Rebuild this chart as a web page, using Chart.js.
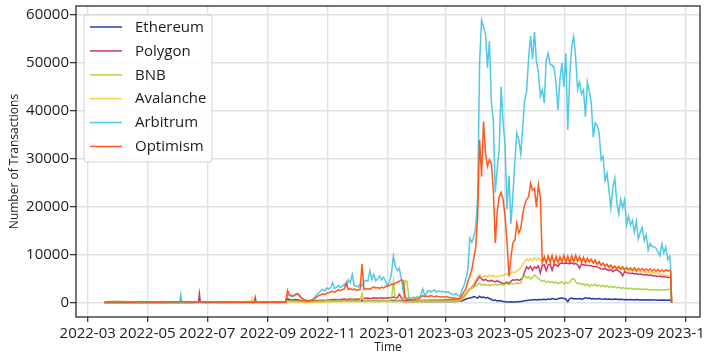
<!DOCTYPE html>
<html>
<head>
<meta charset="utf-8">
<title>Daily transactions by chain</title>
<script src="https://cdn.jsdelivr.net/npm/chart.js@4.4.1/dist/chart.umd.min.js"></script>
<style>
  html, body { margin: 0; padding: 0; background: #ffffff; }
  canvas { display: block; }
</style>
</head>
<body>
<canvas id="chart" width="704" height="356"></canvas>
<script>
// Sampled days, grouped by month: [month, days of month]
const sampleDays = [
  ['2022-03', [18, 24, 31]],
  ['2022-04', [7, 14, 21, 28]],
  ['2022-05', [5, 12, 19, 26]],
  ['2022-06', [3, 4, 5, 12, 22, 23, 24]],
  ['2022-07', [1, 8, 15, 22, 29]],
  ['2022-08', [5, 12, 15, 16, 17, 18, 19, 20, 27]],
  ['2022-09', [3, 10, 17, 19, 21, 23, 25, 27, 29]],
  ['2022-10', [1, 3, 5, 7, 9, 11, 13, 15, 17, 19, 21, 23, 25, 27, 29, 31]],
  ['2022-11', [2, 4, 6, 8, 10, 12, 14, 16, 18, 20, 22, 24, 26, 28, 30]],
  ['2022-12', [2, 4, 6, 8, 10, 12, 14, 16, 18, 20, 22, 24, 26, 28, 30]],
  ['2023-01', [1, 3, 5, 7, 9, 11, 13, 15, 17, 19, 21, 23, 25, 27, 29, 31]],
  ['2023-02', [2, 4, 6, 8, 10, 12, 14, 16, 18, 20, 22, 24, 26, 28]],
  ['2023-03', [2, 4, 6, 8, 10, 12, 14, 16, 18, 20, 22, 24, 26, 28, 30]],
  ['2023-04', [1, 3, 5, 7, 9, 11, 13, 15, 17, 19, 21, 23, 25, 27, 29]],
  ['2023-05', [1, 3, 5, 7, 9, 11, 13, 15, 17, 19, 21, 23, 25, 27, 29, 31]],
  ['2023-06', [2, 4, 6, 8, 10, 12, 14, 16, 18, 20, 22, 24, 26, 28, 30]],
  ['2023-07', [2, 4, 6, 8, 10, 12, 14, 16, 18, 20, 22, 24, 26, 28, 30]],
  ['2023-08', [1, 3, 5, 7, 9, 11, 13, 15, 17, 19, 21, 23, 25, 27, 29, 31]],
  ['2023-09', [2, 4, 6, 8, 10, 12, 14, 16, 18, 20, 22, 24, 26, 28, 30]],
  ['2023-10', [2, 4, 6, 8, 10, 12, 14, 16, 17, 18]]
];

// Number of transactions per chain, one value per sampled day (one line per month)
const ethereum = [
  60, 70, 80,
  80, 90, 80, 90,
  80, 90, 100, 90,
  100, 110, 100, 100, 110, 120, 110,
  100, 110, 100, 110, 120,
  120, 130, 130, 130, 140, 130, 140, 130, 140,
  150, 150, 160, 170, 700, 450, 400, 380, 400,
  420, 380, 300, 250, 230, 220, 230, 250, 260, 280, 300, 320, 330, 350, 340, 360,
  380, 400, 420, 380, 400, 420, 400, 430, 450, 420, 400, 430, 420, 400, 410,
  420, 430, 450, 420, 400, 430, 450, 440, 420, 430, 410, 400, 420, 430, 410,
  400, 420, 450, 480, 460, 440, 420, 380, 300, 280, 270, 280, 290, 270, 280, 290,
  280, 300, 310, 290, 300, 310, 300, 290, 300, 310, 300, 290, 300, 310,
  300, 310, 300, 290, 300, 310, 320, 350, 450, 600, 800, 900, 1000, 1100, 1300,
  1200, 1000, 1400, 1100, 1200, 1000, 1100, 900, 700, 500, 600, 400, 500, 400, 300,
  250, 200, 200, 250, 200, 200, 250, 250, 300, 350, 450, 500, 550, 600, 600, 700,
  600, 700, 650, 700, 750, 650, 800, 700, 900, 800, 700, 850, 950, 1000, 900,
  800, 250, 900, 1000, 800, 900, 800, 900, 750, 850, 1100, 900, 1000, 800, 900,
  800, 850, 900, 800, 750, 850, 700, 800, 750, 700, 800, 750, 700, 750, 700, 650,
  700, 650, 700, 650, 600, 700, 650, 600, 650, 600, 650, 600, 650, 600, 600,
  600, 550, 600, 550, 600, 550, 550, 600, 550, 0
];

const polygon = [
  80, 90, 80,
  90, 80, 70, 80,
  90, 80, 70, 80,
  90, 90, 90, 80, 100, 1900, 100,
  90, 80, 90, 80, 90,
  90, 100, 100, 110, 100, 110, 1100, 110, 100,
  110, 100, 110, 110, 900, 700, 600, 650, 700,
  650, 550, 450, 400, 380, 360, 380, 400, 420, 450, 500, 480, 520, 550, 500, 560,
  600, 650, 700, 680, 720, 650, 700, 750, 800, 700, 750, 820, 780, 700, 750,
  780, 800, 850, 900, 950, 1000, 920, 980, 1050, 1000, 950, 1000, 1050, 980, 1000,
  1000, 1050, 1100, 1200, 1100, 1050, 1800, 1100, 500, 450, 420, 400, 420, 450, 430, 450,
  450, 480, 500, 520, 500, 550, 530, 560, 580, 550, 600, 620, 600, 650,
  650, 680, 700, 680, 700, 720, 700, 750, 900, 1300, 1900, 2500, 2900, 3300, 3500,
  4200, 4900, 5500, 5000, 4700, 4900, 4600, 4500, 4700, 4500, 4400, 4600, 4400, 4200, 4000,
  4100, 4300, 4000, 4500, 4800, 4700, 4900, 4700, 4900, 5300, 6500, 7500, 7100, 7600, 6800, 7500,
  7200, 7700, 6200, 7800, 7900, 6700, 7900, 8100, 6800, 8000, 7900, 7600, 8200, 8300, 8200,
  8300, 8200, 8200, 8300, 8100, 8200, 8000, 7200, 8100, 7900, 7900, 7800, 7800, 7700, 7600,
  7600, 7500, 7300, 7100, 7000, 7200, 6900, 6700, 7000, 6500, 6800, 6900, 6600, 6300, 5600, 6500,
  6300, 6200, 6100, 6200, 6000, 6100, 5900, 6000, 5900, 5800, 5900, 5700, 5800, 5700, 5600,
  5600, 5500, 5600, 5400, 5500, 5400, 5300, 5300, 5200, 0
];

const bnb = [
  250, 300, 350,
  300, 250, 300, 250,
  200, 220, 200, 180,
  180, 170, 180, 170, 160, 170, 160,
  170, 180, 170, 180, 200,
  250, 300, 280, 270, 260, 280, 270, 260, 250,
  240, 230, 220, 220, 500, 450, 400, 380, 400,
  380, 350, 300, 280, 270, 260, 280, 300, 320, 350, 380, 400, 420, 400, 430, 450,
  450, 480, 500, 470, 500, 520, 480, 500, 520, 500, 480, 500, 520, 500, 480,
  500, 520, 1900, 500, 480, 520, 500, 480, 500, 520, 500, 480, 500, 520, 500,
  500, 550, 600, 4400, 600, 550, 580, 600, 620, 4600, 4500, 600, 550, 520, 500, 520,
  520, 540, 560, 540, 550, 560, 540, 560, 580, 560, 580, 600, 580, 550,
  550, 560, 540, 550, 560, 580, 600, 700, 1000, 1500, 2000, 2400, 2700, 3000, 3300,
  3500, 3800, 4100, 3700, 3900, 3700, 3800, 3600, 3800, 3700, 3900, 3700, 3800, 3900, 3700,
  3900, 4000, 3800, 4100, 3900, 4000, 4200, 4000, 4100, 5400, 5600, 5200, 5500, 5000, 5300, 5800,
  5500, 5100, 4800, 4500, 4700, 4300, 4500, 4200, 4400, 4100, 4300, 4000, 4200, 4400, 4000,
  4300, 4100, 4200, 4900, 5100, 4400, 4000, 4100, 3800, 4000, 3600, 3900, 3400, 3800, 3600,
  3900, 3500, 3700, 3400, 3700, 3300, 3600, 3200, 3500, 3200, 3400, 3100, 3300, 3000, 3200, 3000,
  3100, 2900, 3100, 2900, 3000, 2800, 3000, 2800, 2900, 2800, 2900, 2700, 2800, 2700, 2800,
  2700, 2800, 2700, 2700, 2800, 2700, 2800, 2800, 2900, 0
];

const avalanche = [
  60, 60, 70,
  60, 70, 60, 70,
  60, 70, 60, 70,
  70, 60, 70, 60, 70, 60, 70,
  60, 70, 60, 70, 60,
  70, 80, 100, 1000, 100, 90, 90, 80, 80,
  90, 80, 90, 90, 300, 250, 220, 200, 220,
  200, 180, 150, 130, 120, 120, 130, 140, 150, 160, 170, 180, 190, 200, 210, 220,
  230, 240, 250, 240, 250, 260, 250, 260, 270, 260, 250, 260, 270, 260, 250,
  260, 270, 1600, 270, 260, 280, 270, 260, 280, 270, 260, 280, 270, 260, 280,
  270, 280, 300, 320, 300, 290, 280, 300, 250, 240, 230, 240, 250, 240, 250, 260,
  250, 260, 270, 260, 270, 280, 270, 260, 270, 280, 270, 280, 290, 280,
  290, 300, 290, 300, 310, 300, 320, 400, 700, 1000, 1500, 2200, 2800, 3400, 4000,
  4900, 5600, 5900, 5300, 5500, 5700, 5400, 5800, 5500, 5700, 5400, 5600, 5500, 5800, 5600,
  5900, 6000, 5800, 6200, 6400, 6300, 6700, 6900, 7300, 8000, 8600, 9200, 8700, 9300, 8800, 9400,
  8900, 9300, 9000, 8700, 9100, 8800, 9200, 8900, 9100, 8800, 9000, 8700, 9000, 8800, 9100,
  8900, 9000, 8700, 9000, 8800, 9100, 8800, 8900, 8700, 8900, 8600, 8800, 8500, 8700, 8400,
  8500, 8200, 8300, 8000, 8100, 7800, 7900, 7600, 7700, 7400, 7500, 7200, 7300, 7000, 7100, 6900,
  7000, 6800, 6900, 6700, 6800, 6600, 6700, 6500, 6600, 6400, 6500, 6300, 6400, 6200, 6300,
  6100, 6200, 6000, 5900, 5800, 5700, 5600, 5500, 5400, 0
];

const arbitrum = [
  80, 90, 100,
  90, 100, 110, 100,
  120, 110, 120, 130,
  200, 1700, 200, 120, 130, 120, 130,
  140, 130, 140, 150, 140,
  150, 160, 150, 160, 150, 160, 170, 160, 170,
  180, 170, 180, 180, 1700, 1500, 1300, 1500, 1800,
  1900, 1700, 1100, 800, 600, 500, 500, 600, 800, 1200, 1800, 2000, 2600, 2800, 2500, 3100,
  2900, 3200, 4200, 3000, 3300, 3600, 3200, 3500, 3900, 3400, 4800, 4200, 5900, 3600, 3500,
  3300, 3800, 3500, 4400, 4700, 4500, 6700, 4900, 6000, 4600, 5000, 5600, 4800, 5300, 4500,
  3600, 4400, 6000, 9800, 7600, 6700, 7200, 5200, 2500, 1200, 1000, 1100, 900, 1200, 1000, 1300,
  1100, 1600, 2900, 1500, 2100, 2600, 2300, 2500, 2700, 2200, 2500, 2300, 2400, 2300,
  2200, 2300, 2000, 1800, 1700, 1900, 1500, 1400, 2600, 3600, 5000, 7000, 13500, 12600, 13700,
  15600, 22000, 50000, 58900, 57500, 56000, 49000, 54500, 42000, 38000, 23000, 28000, 32000, 45000, 37500,
  33000, 19500, 26500, 16500, 22500, 29500, 35400, 34000, 31000, 36500, 42300, 44000, 51000, 55600, 50800, 56400,
  50300, 48000, 43000, 44400, 41600, 50600, 52000, 49600, 49500, 49000, 45800, 40200, 46500, 50000, 45000,
  52000, 36000, 47200, 53400, 55500, 51300, 44500, 46000, 43500, 44400, 38800, 46000, 44000, 41500, 34500,
  37500, 37000, 35500, 29800, 30500, 25500, 27000, 23500, 19800, 24000, 26000, 21000, 18500, 21600, 19800, 21500,
  16200, 18000, 16200, 17200, 14700, 17000, 13300, 14700, 15700, 12900, 14200, 11000, 12400, 11700, 11700,
  11400, 10700, 9800, 12300, 10400, 11600, 9000, 9700, 7600, 0
];

const optimism = [
  150, 160, 170,
  160, 150, 160, 170,
  160, 150, 160, 170,
  300, 350, 300, 180, 170, 180, 170,
  160, 150, 160, 150, 140,
  150, 140, 150, 140, 150, 140, 150, 140, 150,
  140, 150, 150, 150, 2600, 1700, 1500, 1400, 1700,
  1900, 1500, 1000, 700, 500, 450, 450, 500, 600, 900, 1300, 1500, 1700, 1900, 1700, 2000,
  2100, 2300, 2400, 2200, 2500, 2700, 2600, 2800, 2900, 4200, 2800, 3000, 2700, 2900, 2600,
  2700, 2800, 8100, 2800, 2900, 3000, 2800, 3100, 3300, 3100, 3200, 3000, 3300, 3100, 3400,
  3500, 3600, 3900, 3800, 4100, 4300, 4500, 4800, 4600, 900, 700, 650, 600, 700, 750, 800,
  900, 1200, 1500, 1300, 1400, 1300, 1500, 1400, 1300, 1400, 1300, 1200, 1300, 1200,
  1300, 1200, 1100, 1000, 1000, 900, 900, 1000, 1600, 2300, 2900, 4500, 5500, 6900, 9200,
  11500, 18000, 34000, 26300, 37800, 31200, 28400, 29800, 29000, 23500, 12500, 19000, 22100, 23000, 21500,
  18000, 12500, 5500, 9500, 12500, 13000, 16600, 14600, 15500, 18500, 20500, 21500, 22100, 24900, 23500, 23800,
  20000, 24600, 22000, 8300, 9600, 8300, 9800, 8500, 9900, 8200, 9700, 8400, 9600, 8600, 9900,
  8500, 9700, 8300, 9800, 8600, 9900, 8700, 9600, 8500, 9500, 8400, 9300, 8500, 9100, 8300,
  8900, 8000, 8600, 7800, 8300, 7600, 8100, 7400, 7900, 7200, 7700, 7100, 7600, 7000, 7500, 6900,
  7400, 6900, 7300, 6800, 7300, 6700, 7200, 6800, 7200, 6700, 7100, 6700, 7100, 6600, 7000,
  6600, 7000, 6500, 6900, 6500, 6900, 6600, 6800, 6500, 0
];

// Axis tick labels
const xTickMonths = ['2022-03', '2022-05', '2022-07', '2022-09', '2022-11', '2023-01',
                     '2023-03', '2023-05', '2023-07', '2023-09', '2023-11'];
const yTickValues = [0, 10000, 20000, 30000, 40000, 50000, 60000];

const seriesInfo = [
  { label: 'Ethereum',  values: ethereum,  color: 'rgba(12, 40, 155, 0.9)' },
  { label: 'Polygon',   values: polygon,   color: 'rgba(195, 20, 80, 0.85)' },
  { label: 'BNB',       values: bnb,       color: 'rgba(160, 205, 40, 0.85)' },
  { label: 'Avalanche', values: avalanche, color: 'rgba(255, 196, 40, 0.85)' },
  { label: 'Arbitrum',  values: arbitrum,  color: 'rgba(62, 195, 226, 0.9)' },
  { label: 'Optimism',  values: optimism,  color: 'rgba(255, 75, 10, 0.92)' }
];

const DAY_MS = 86400000;
const dayNumber = iso => Date.parse(iso + 'T00:00:00Z') / DAY_MS;

const dayAxis = [];
sampleDays.forEach(([month, days]) => {
  days.forEach(d => dayAxis.push(dayNumber(month + '-' + String(d).padStart(2, '0'))));
});

// 5% margins on both axes around the data extent
const firstDay = dayAxis[0];
const lastDay = dayAxis[dayAxis.length - 1];
const xPad = (lastDay - firstDay) * 0.05;
const maxValue = Math.max(...seriesInfo.map(s => Math.max(...s.values)));
const yPad = maxValue * 0.05;

const FONT = '"Open Sans", "Noto Sans", "DejaVu Sans", sans-serif';
const TEXT = '#1c1c1c';

const datasets = seriesInfo.map((s, i) => ({
  label: s.label,
  data: s.values.map((v, k) => ({ x: dayAxis[k], y: v })),
  borderColor: s.color,
  backgroundColor: s.color,
  borderWidth: 1.5,
  pointRadius: 0,
  pointHoverRadius: 0,
  tension: 0,
  fill: false,
  order: seriesInfo.length - 1 - i
}));

// Frame around the plot area plus a boxed legend in its upper-left corner
const frameAndLegend = {
  id: 'frameAndLegend',
  afterDatasetsDraw(chart) {
    const { ctx, chartArea: a } = chart;
    ctx.save();
    ctx.strokeStyle = '#2b2b2b';
    ctx.lineWidth = 1.3;
    ctx.strokeRect(a.left, a.top, a.right - a.left, a.bottom - a.top);

    const bx = a.left + 8, by = a.top + 9, bw = 128, bh = 147, r = 3;
    ctx.beginPath();
    ctx.moveTo(bx + r, by);
    ctx.lineTo(bx + bw - r, by);
    ctx.arcTo(bx + bw, by, bx + bw, by + r, r);
    ctx.lineTo(bx + bw, by + bh - r);
    ctx.arcTo(bx + bw, by + bh, bx + bw - r, by + bh, r);
    ctx.lineTo(bx + r, by + bh);
    ctx.arcTo(bx, by + bh, bx, by + bh - r, r);
    ctx.lineTo(bx, by + r);
    ctx.arcTo(bx, by, bx + r, by, r);
    ctx.closePath();
    ctx.fillStyle = 'rgba(255, 255, 255, 0.85)';
    ctx.fill();
    ctx.strokeStyle = '#d0d0d0';
    ctx.lineWidth = 1;
    ctx.stroke();

    ctx.font = '15px ' + FONT;
    ctx.textBaseline = 'middle';
    ctx.textAlign = 'left';
    chart.data.datasets.forEach((ds, i) => {
      const y = by + 12 + i * 23.9;
      ctx.strokeStyle = ds.borderColor;
      ctx.lineWidth = 1.5;
      ctx.beginPath();
      ctx.moveTo(bx + 6, y);
      ctx.lineTo(bx + 38, y);
      ctx.stroke();
      ctx.fillStyle = TEXT;
      ctx.fillText(ds.label, bx + 51, y + 0.5);
    });
    ctx.restore();
  }
};

new Chart(document.getElementById('chart'), {
  type: 'line',
  data: { datasets },
  options: {
    responsive: false,
    animation: false,
    events: [],
    layout: { padding: { top: 6, right: 4, left: 0, bottom: 0 } },
    plugins: { legend: { display: false }, tooltip: { enabled: false } },
    scales: {
      x: {
        type: 'linear',
        min: firstDay - xPad,
        max: lastDay + xPad,
        afterBuildTicks: scale => {
          scale.ticks = xTickMonths.map(m => ({ value: dayNumber(m + '-01') }));
        },
        afterFit: scale => {
          scale.height = 39;
          scale.paddingLeft = 0;
          scale.paddingRight = 0;
        },
        ticks: {
          autoSkip: false,
          maxRotation: 0,
          padding: 3,
          color: TEXT,
          font: { family: FONT, size: 15 },
          callback: (value, index) => xTickMonths[index]
        },
        grid: { color: '#e1e1e1', lineWidth: 1.4, tickLength: 5, tickColor: '#2b2b2b', tickWidth: 1.2 },
        border: { display: false },
        title: {
          display: true,
          text: 'Time',
          color: TEXT,
          font: { family: FONT, size: 12 },
          padding: { top: 0, bottom: 1 }
        }
      },
      y: {
        type: 'linear',
        min: -yPad,
        max: maxValue + yPad,
        afterBuildTicks: scale => {
          scale.ticks = yTickValues.map(v => ({ value: v }));
        },
        afterFit: scale => {
          scale.width = 76;
          scale.paddingTop = 0;
          scale.paddingBottom = 0;
        },
        ticks: {
          padding: 1,
          color: TEXT,
          font: { family: FONT, size: 15 },
          callback: value => String(value)
        },
        grid: { color: '#e1e1e1', lineWidth: 1.4, tickLength: 6, tickColor: '#2b2b2b', tickWidth: 1.2 },
        border: { display: false },
        title: {
          display: true,
          text: 'Number of Transactions',
          color: TEXT,
          font: { family: FONT, size: 12 },
          padding: { top: 7, bottom: 0 }
        }
      }
    }
  },
  plugins: [frameAndLegend]
});
</script>
</body>
</html>
